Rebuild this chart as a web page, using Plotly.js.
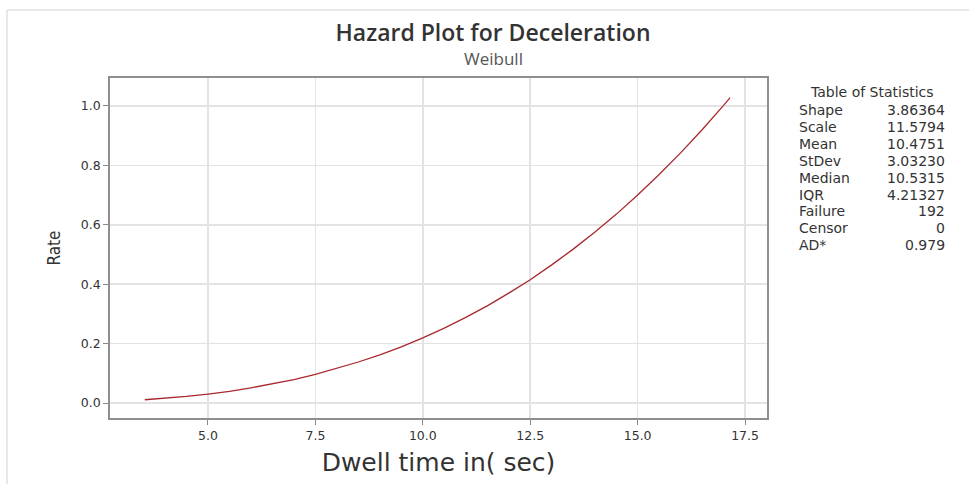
<!DOCTYPE html>
<html>
<head>
<meta charset="utf-8">
<script src="https://cdn.plot.ly/plotly-3.0.1.min.js"></script>
<style>
html,body{margin:0;padding:0;background:#fff;}
#chart{width:969px;height:484px;}
</style>
</head>
<body>
<div id="chart"></div>
<script>
// Hazard curve values
const dwellTime = [3.53, 4.0, 4.5, 5.0, 5.5, 6.0, 6.5, 7.0, 7.5, 8.0, 8.5, 9.0, 9.5, 10.0, 10.5, 11.0, 11.5, 12.0, 12.5, 13.0, 13.5, 14.0, 14.5, 15.0, 15.5, 16.0, 16.5, 17.0, 17.15];
const hazardRate = [0.011, 0.016, 0.022, 0.030, 0.039, 0.051, 0.064, 0.079, 0.096, 0.116, 0.138, 0.162, 0.189, 0.219, 0.252, 0.288, 0.327, 0.370, 0.415, 0.465, 0.518, 0.575, 0.635, 0.700, 0.769, 0.842, 0.920, 1.002, 1.028];

const xTickVals = [5.0, 7.5, 10.0, 12.5, 15.0, 17.5];
const xTickText = ["5.0", "7.5", "10.0", "12.5", "15.0", "17.5"];
const yTickVals = [0.0, 0.2, 0.4, 0.6, 0.8, 1.0];
const yTickText = ["0.0", "0.2", "0.4", "0.6", "0.8", "1.0"];

const statLabels = ["Shape", "Scale", "Mean", "StDev", "Median", "IQR", "Failure", "Censor", "AD*"];
const statValues = ["3.86364", "11.5794", "10.4751", "3.03230", "10.5315", "4.21327", "192", "0", "0.979"];

const W = 969, H = 484;
const L = 110, R = 767, T = 78, B = 418;
const pw = R - L, ph = B - T;
const px = x => (x - L) / pw;
const py = y => (B - y) / ph;

const titleFont = "'Open Sans', 'Noto Sans', sans-serif";
const font = "'DejaVu Sans', sans-serif";

const annotations = [];
annotations.push({
  xref: 'paper', yref: 'paper', x: px(493), y: py(58), xanchor: 'center', yanchor: 'middle',
  text: 'Weibull', showarrow: false, font: {family: titleFont, size: 17, color: '#555'}
});
annotations.push({
  xref: 'paper', yref: 'paper', x: px(872), y: py(92), xanchor: 'center', yanchor: 'middle',
  text: 'Table of Statistics', showarrow: false, font: {family: font, size: 14, color: '#333'}
});
statLabels.forEach((lab, i) => {
  const yy = 110 + i * 16.9;
  annotations.push({
    xref: 'paper', yref: 'paper', x: px(797), y: py(yy), xanchor: 'left', yanchor: 'middle',
    text: lab, showarrow: false, font: {family: font, size: 14, color: '#333'}
  });
  annotations.push({
    xref: 'paper', yref: 'paper', x: px(947), y: py(yy), xanchor: 'right', yanchor: 'middle',
    text: statValues[i], showarrow: false, font: {family: font, size: 14, color: '#333'}
  });
});

const shapes = [
  {type: 'line', xref: 'paper', yref: 'paper', x0: px(7), x1: px(7), y0: py(10), y1: py(484),
   line: {color: '#e0e0e0', width: 1.5}},
  {type: 'line', xref: 'paper', yref: 'paper', x0: px(7), x1: px(969), y0: py(10), y1: py(10),
   line: {color: '#e0e0e0', width: 1.5}}
];

const data = [{
  x: dwellTime, y: hazardRate, type: 'scatter', mode: 'lines',
  line: {color: '#a8282c', width: 1.3}, hoverinfo: 'x+y'
}];

const layout = {
  width: W, height: H,
  margin: {l: L, r: W - R, t: T, b: H - B, pad: 0},
  paper_bgcolor: '#fff', plot_bgcolor: '#fff',
  showlegend: false,
  title: {
    text: 'Hazard Plot for Deceleration',
    font: {family: titleFont, size: 23, color: '#333', weight: 600},
    x: 493 / W, xanchor: 'center', xref: 'container',
    y: 1 - 33 / H, yanchor: 'middle', yref: 'container'
  },
  xaxis: {
    range: [2.72, 18.01],
    tickvals: xTickVals, ticktext: xTickText,
    ticks: 'outside', ticklen: 5, tickcolor: '#888', tickwidth: 1,
    showgrid: true, gridcolor: '#e3e3e3', gridwidth: 1.5,
    zeroline: false,
    showline: true, linecolor: '#8f8f8f', linewidth: 1.8, mirror: true,
    tickfont: {family: font, size: 12.5, color: '#333'},
    title: {text: 'Dwell time in( sec)', font: {family: font, size: 25, color: '#333'}, standoff: 12}
  },
  yaxis: {
    range: [-0.0505, 1.094],
    tickvals: yTickVals, ticktext: yTickText,
    ticks: 'outside', ticklen: 5, tickcolor: '#888', tickwidth: 1,
    showgrid: true, gridcolor: '#e3e3e3', gridwidth: 1.5,
    zeroline: false,
    showline: true, linecolor: '#8f8f8f', linewidth: 1.8, mirror: true,
    tickfont: {family: font, size: 12.5, color: '#333'},
    title: {text: 'Rate', font: {family: "'Liberation Sans Narrow', 'DejaVu Sans Condensed', sans-serif", size: 17, color: '#333'}, standoff: 16}
  },
  annotations: annotations,
  shapes: shapes
};

Plotly.newPlot('chart', data, layout, {displayModeBar: false, staticPlot: true});
</script>
</body>
</html>
